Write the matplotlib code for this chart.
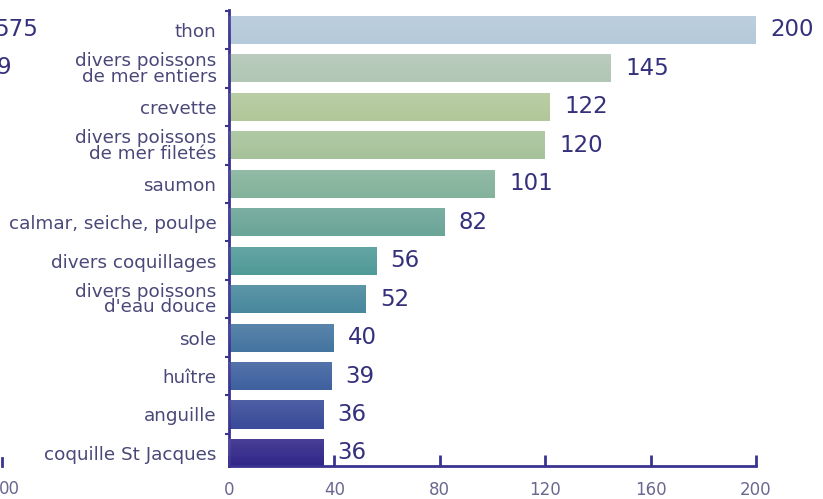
import numpy as np
import matplotlib.pyplot as plt
from matplotlib.lines import Line2D

# Seafood categories (top to bottom) and their values
categories = ['thon', 'divers poissons\nde mer entiers', 'crevette',
              'divers poissons\nde mer filetés', 'saumon', 'calmar, seiche, poulpe',
              'divers coquillages', "divers poissons\nd'eau douce", 'sole',
              'huître', 'anguille', 'coquille St Jacques']
values = [200, 145, 122, 120, 101, 82, 56, 52, 40, 39, 36, 36]
barColors = ['#b4c9da', '#b1c6b5', '#b1c799', '#a6c29a', '#83b29a', '#6aa597',
             '#509a98', '#48889d', '#4475a0', '#3e619f', '#384a99', '#312688']
xTicks = [0, 40, 80, 120, 160, 200]

labelColor = '#4a4878'
valueColor = '#35307c'
axisColor = '#3a3390'
tickLabelColor = '#6a6890'

fig = plt.figure(figsize=(8.23, 4.99), dpi=100)
ax = fig.add_axes([0.2783, 0.0661, 0.9186 - 0.2783, 0.98 - 0.0661])

ypos = np.arange(len(values))
bars = ax.barh(ypos, values, height=0.73, color=barColors, zorder=2)

# soft lighter band at the top of each bar
grad = np.linspace(0.0, 0.12, 50).reshape(-1, 1)
white = np.ones((50, 1, 4))
white[:, :, 3] = grad
for b in bars:
    x0, y0 = b.get_x(), b.get_y()
    w, h = b.get_width(), b.get_height()
    im = ax.imshow(white, extent=[x0, x0 + w, y0 + h, y0], aspect='auto',
                   origin='lower', zorder=3, interpolation='bilinear')
    im.set_clip_path(b)

for y, v in zip(ypos, values):
    ax.annotate(str(v), (v, y), xytext=(10, 0), textcoords='offset points',
                va='center', ha='left', fontsize=16.5, color=valueColor)

ax.set_xlim(0, 200)
ax.set_ylim(11.34, -0.52)
ax.set_yticks(ypos)
ax.set_yticklabels(categories, fontsize=13.2, color=labelColor, linespacing=0.8)
ax.set_yticks(np.arange(-0.5, 11.5, 1.0), minor=True)
ax.tick_params(axis='y', which='major', length=0, pad=9)
ax.tick_params(axis='y', which='minor', length=3, width=1.5, color=axisColor, direction='out')
for t in ax.get_yticklabels():
    t.set_multialignment('right')

ax.set_xticks(xTicks)
ax.set_xticklabels([str(t) for t in xTicks])
ax.tick_params(axis='x', direction='in', length=8, width=2, color=axisColor,
               labelsize=12, labelcolor=tickLabelColor, pad=11)

for side in ['top', 'right']:
    ax.spines[side].set_visible(False)
for side in ['left', 'bottom']:
    ax.spines[side].set_color(axisColor)
    ax.spines[side].set_linewidth(2)

# pieces of the neighbouring panel at the left edge
fig.text(38 / 823, 1 - 30 / 499, '575', ha='right', va='center', fontsize=16.5, color=valueColor)
fig.text(11 / 823, 1 - 68 / 499, '9', ha='right', va='center', fontsize=16.5, color=valueColor)
fig.text(20 / 823, 1 - 489 / 499, '00', ha='right', va='center', fontsize=12, color=tickLabelColor)
fig.add_artist(Line2D([2 / 823, 2 / 823], [1 - 458 / 499, 1 - 466 / 499],
                      transform=fig.transFigure, color=axisColor, lw=2))

fig.savefig('out.png', dpi=100)
